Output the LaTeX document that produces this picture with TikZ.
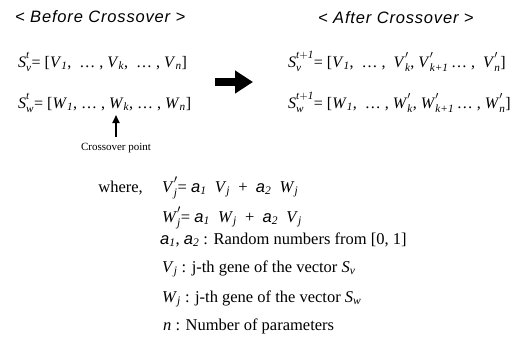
\documentclass[tikz,border=0pt]{standalone}
\usepackage{amsmath}
\usepackage{fontspec}
\setmainfont{Liberation Serif}
\setsansfont{Liberation Sans}
\newfontfamily\headfont[LetterSpace=5]{Liberation Sans}
\usetikzlibrary{arrows.meta,positioning}

\newcommand{\vsub}[2]{\textit{#1}\ensuremath{_{\textit{#2}}}}
\newcommand{\vsubsup}[3]{\textit{#1}\ensuremath{_{\textit{#2}}^{\raisebox{0.3ex}{$\scriptstyle #3$}}}}
\newcommand{\avar}[1]{{\sffamily\itshape a}\ensuremath{_{\textit{#1}}}}

\begin{document}
\begin{tikzpicture}[
x=1pt, y=-1pt,
heading/.style={font=\headfont\itshape\fontsize{16.5}{19}\selectfont, inner sep=0pt, anchor=west},
eqn/.style={font=\fontsize{16}{19}\selectfont, inner sep=0pt, anchor=base west},
defn/.style={font=\fontsize{16.5}{20}\selectfont, inner sep=0pt, anchor=base west},
bigarrow/.style={line width=8pt, -{Triangle[length=18pt, width=22pt]}},
pointer/.style={line width=1.8pt, -{Triangle[length=8pt, width=7pt]}}
]
\useasboundingbox (0,0) rectangle (512,340);

% headings
\node[heading] (before) at (15,17) {< Before Crossover >};
\node[heading] (after) at (318,18) {< After Crossover >};

% parents
\node[eqn] (svold) at (18,67) {\vsubsup{S}{v}{\textit{t}}= [\vsub{V}{1}, \ \dots\ , \vsub{V}{k}, \ \dots\ , \vsub{V}{n}]};
\node[eqn] (swold) at (18,108) {\vsubsup{S}{w}{\textit{t}}= [\vsub{W}{1}, \dots\ , \vsub{W}{k}, \dots\ , \vsub{W}{n}]};

% offspring
\node[eqn] (svnew) at (288,67) {\vsubsup{S}{v}{\textit{t}+\textit{1}}= [\vsub{V}{1}, \ \dots\ , \ \vsubsup{V}{k}{\prime}, \vsubsup{V}{k+1}{\prime}\,\dots\ , \ \vsubsup{V}{n}{\prime}]};
\node[eqn] (swnew) at (288,108) {\vsubsup{S}{w}{\textit{t}+\textit{1}}= [\vsub{W}{1}, \ \dots\ , \vsubsup{W}{k}{\prime}, \vsubsup{W}{k+1}{\prime}\,\dots\ , \vsubsup{W}{n}{\prime}]};

\coordinate (arrowtail) at (215,82);
\coordinate (arrowtip) at (253,82);
\draw[bigarrow] (arrowtail) -- (arrowtip);

% crossover point
\node[font=\fontsize{11}{13}\selectfont, inner sep=0pt] (cross) at (116,148) {Crossover point};
\coordinate (cut) at (116,115);
\draw[pointer, shorten <=6pt] (cross.north) -- (cut);

% definitions
\node[defn, anchor=base east] (where) at (143,192) {where,};
\node[defn] (vdef) at (162,192) {\vsubsup{V}{j}{\prime}= \avar{1}\ \ \vsub{V}{j}\ \ +\ \ \avar{2}\ \ \vsub{W}{j}};
\node[defn] (wdef) at (162,222) {\vsubsup{W}{j}{\prime}= \avar{1}\ \ \vsub{W}{j}\ \ +\ \ \avar{2}\ \ \vsub{V}{j}};
\node[defn] (adef) at (160,244) {\avar{1}, \avar{2} : Random numbers from [0, 1]};
\node[defn] (vgene) at (162,272) {\vsub{V}{j} : j-th gene of the vector \vsub{S}{v}};
\node[defn] (wgene) at (162,302) {\vsub{W}{j} : j-th gene of the vector \vsub{S}{w}};
\node[defn] (npar) at (163,330) {\textit{n} : Number of parameters};
\end{tikzpicture}
\end{document}
